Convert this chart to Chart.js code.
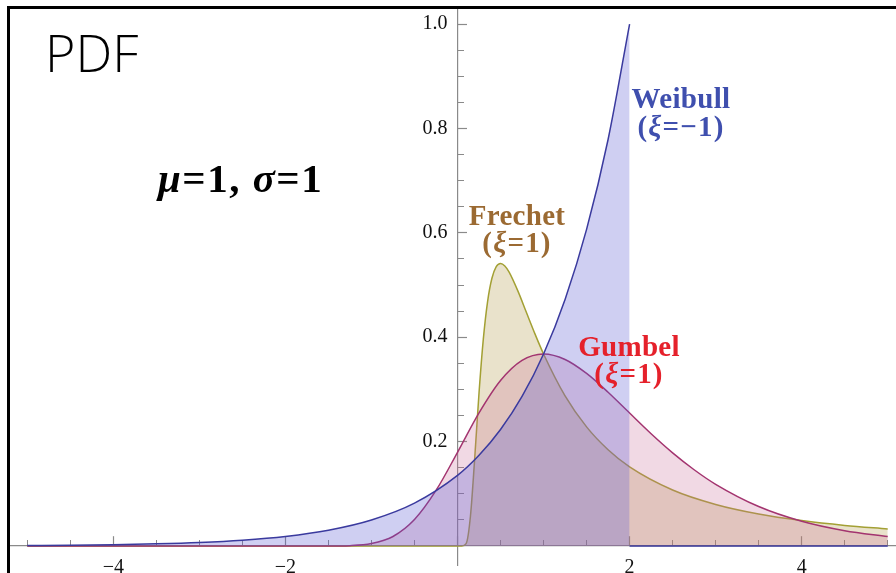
<!DOCTYPE html>
<html>
<head>
<meta charset="utf-8">
<script src="https://cdn.jsdelivr.net/npm/chart.js@4.4.1/dist/chart.umd.min.js"></script>
<style>
  html, body { margin: 0; padding: 0; background: #fff; }
  #wrap { position: relative; width: 896px; height: 573px; overflow: hidden; }
  #frame { position: absolute; left: 7px; top: 6px; right: -5px; bottom: -5px;
           border-left: 3px solid #000; border-top: 3px solid #000; pointer-events: none; }
</style>
</head>
<body>
<div id="wrap">
  <canvas id="pdfChart" width="896" height="573"></canvas>
  <div id="frame"></div>
</div>
<script>
// GEV densities, mu=1, sigma=1
const xWeibull = [-5, -4.5, -4, -3.5, -3, -2.5, -2, -1.5, -1, -0.5, 0, 0.25, 0.5, 0.75, 1, 1.25, 1.5, 1.75, 2];
const yWeibull = [0.0009, 0.0015, 0.0025, 0.0041, 0.0067, 0.0111, 0.0183, 0.0302, 0.0498, 0.0821, 0.1353, 0.1738, 0.2231, 0.2865, 0.3679, 0.4724, 0.6065, 0.7788, 1.0];
// zero beyond the upper end point
const xWeibullTail = [2, 5];
const yWeibullTail = [0, 0];

const xGumbel = [-5, -1.5, -1.25, -1, -0.75, -0.5, -0.25, 0, 0.25, 0.5, 0.75, 1, 1.25, 1.5, 1.75, 2, 2.25, 2.5, 2.75, 3, 3.5, 4, 4.5, 5];
const yGumbel = [0, 0.0001, 0.0007, 0.0046, 0.0182, 0.0507, 0.1064, 0.1794, 0.2549, 0.3170, 0.3556, 0.3679, 0.3574, 0.3307, 0.2946, 0.2547, 0.2151, 0.1785, 0.1461, 0.1182, 0.0756, 0.0474, 0.0293, 0.0180];

const xFrechet = [-5, 0, 0.05, 0.1, 0.15, 0.2, 0.25, 0.3, 0.35, 0.4, 0.45, 0.5, 0.55, 0.6, 0.7, 0.8, 0.9, 1, 1.25, 1.5, 1.75, 2, 2.5, 3, 3.5, 4, 4.5, 5];
const yFrechet = [0, 0, 0.0000, 0.0045, 0.0566, 0.1684, 0.2930, 0.3963, 0.4688, 0.5130, 0.5353, 0.5413, 0.5366, 0.5247, 0.4892, 0.4477, 0.4064, 0.3679, 0.2876, 0.2282, 0.1844, 0.1516, 0.1073, 0.0796, 0.0613, 0.0487, 0.0395, 0.0327];

const xMajorStep = 2, xMinorStep = 0.5;
const yMajorStep = 0.2, yMinorStep = 0.05;

const pts = (xs, ys) => xs.map((x, i) => ({ x: x, y: ys[i] }));

const axisGrey = '#8a8a8a';
const serif = '"Liberation Serif", "Times New Roman", serif';
const X_MIN = -5.224, X_MAX = 5.096, Y_MIN = -0.0364, Y_MAX = 1.0307;

// labels drawn on the canvas
const textLabels = {
  id: 'textLabels',
  afterDatasetsDraw(chart) {
    const c = chart.ctx;
    c.save();
    c.textBaseline = 'alphabetic';
    c.textAlign = 'left';

    c.fillStyle = '#000';
    c.font = '300 52px "Open Sans"';
    c.fillText('PDF', 45, 72);

    // draw runs of text, mixing italic greek letters and upright bold
    function runs(parts, size, color, x, y, centered, spacing) {
      c.letterSpacing = (spacing || 0) + 'px';
      let total = 0;
      parts.forEach(p => {
        c.font = (p[1] ? 'italic ' : '') + 'bold ' + size + 'px ' + serif;
        total += c.measureText(p[0]).width;
      });
      let cx = centered ? x - total / 2 : x;
      c.fillStyle = color;
      parts.forEach(p => {
        c.font = (p[1] ? 'italic ' : '') + 'bold ' + size + 'px ' + serif;
        c.fillText(p[0], cx, y);
        cx += c.measureText(p[0]).width;
      });
      c.letterSpacing = '0px';
    }

    runs([['μ', true], ['=1, ', false], ['σ', true], ['=1', false]], 41, '#000', 158, 192, false, 1.5);

    const blue = '#3f4fae', brown = '#9b6a32', red = '#e5212b';
    runs([['Weibull', false]], 29, blue, 681, 108, true, 0.3);
    runs([['(', false], ['ξ', true], ['=−1)', false]], 29, blue, 681, 136, true, 1.2);
    runs([['Frechet', false]], 29, brown, 517, 225, true, 0.3);
    runs([['(', false], ['ξ', true], ['=1)', false]], 29, brown, 517, 252, true, 1.2);
    runs([['Gumbel', false]], 29, red, 629, 356, true, 0.3);
    runs([['(', false], ['ξ', true], ['=1)', false]], 29, red, 629, 383, true, 1.2);
    c.restore();
  }
};

// positioned axes should not take room from the plot area
const noSpaceX = s => { s.height = 0; s.paddingLeft = 0; s.paddingRight = 0; s.paddingTop = 0; s.paddingBottom = 0; };
const noSpaceY = s => { s.width = 0; s.paddingTop = 0; s.paddingBottom = 0; s.paddingLeft = 0; s.paddingRight = 0; };

new Chart(document.getElementById('pdfChart').getContext('2d'), {
  type: 'line',
  data: {
    datasets: [
      {
        label: 'Weibull',
        data: pts(xWeibull, yWeibull),
        borderColor: '#3a3a9e',
        backgroundColor: 'rgba(90,90,210,0.29)',
        borderWidth: 1.5,
        fill: 'origin',
        cubicInterpolationMode: 'monotone'
      },
      {
        label: 'Weibull tail',
        data: pts(xWeibullTail, yWeibullTail),
        borderColor: '#3a3a9e',
        borderWidth: 1.5,
        fill: false,
        tension: 0
      },
      {
        label: 'Gumbel',
        data: pts(xGumbel, yGumbel),
        borderColor: '#a3346f',
        backgroundColor: 'rgba(200,110,150,0.26)',
        borderWidth: 1.5,
        fill: 'origin',
        cubicInterpolationMode: 'monotone'
      },
      {
        label: 'Frechet',
        data: pts(xFrechet, yFrechet),
        borderColor: '#a3a034',
        backgroundColor: 'rgba(175,150,70,0.28)',
        borderWidth: 1.5,
        fill: 'origin',
        cubicInterpolationMode: 'monotone'
      }
    ]
  },
  options: {
    responsive: false,
    animation: false,
    layout: { padding: { left: 8, top: 8, right: 0, bottom: 8 } },
    elements: { point: { radius: 0 } },
    plugins: { legend: { display: false }, tooltip: { enabled: false } },
    scales: {
      x: {
        type: 'linear', position: { y: 0 }, min: X_MIN, max: X_MAX,
        afterFit: noSpaceX,
        border: { color: axisGrey, width: 1.2 },
        grid: { drawOnChartArea: false, tickLength: -10, tickColor: axisGrey, tickWidth: 1.2 },
        ticks: {
          stepSize: xMajorStep, includeBounds: false, padding: 20, maxRotation: 0,
          color: '#111', font: { family: serif, size: 20 },
          callback: v => Math.abs(v) < 1e-6 ? '' : (v < 0 ? '\u2212' + Math.abs(v) : String(v))
        }
      },
      x2: {
        type: 'linear', axis: 'x', position: { y: 0 }, min: X_MIN, max: X_MAX,
        afterFit: noSpaceX,
        border: { display: false },
        grid: { drawOnChartArea: false, tickLength: -6, tickColor: axisGrey, tickWidth: 1 },
        ticks: { stepSize: xMinorStep, includeBounds: false, display: false }
      },
      y: {
        type: 'linear', position: { x: 0 }, min: Y_MIN, max: Y_MAX,
        afterFit: noSpaceY,
        border: { color: axisGrey, width: 1.2 },
        grid: { drawOnChartArea: false, tickLength: -10, tickWidth: 1.2,
                tickColor: ctx => (ctx.tick && ctx.tick.value < 0.01) ? 'rgba(0,0,0,0)' : axisGrey },
        ticks: {
          stepSize: yMajorStep, includeBounds: false,
          color: '#111', font: { family: serif, size: 20 },
          callback: v => v < 0.01 ? '' : v.toFixed(1) + '  '
        }
      },
      y2: {
        type: 'linear', axis: 'y', position: { x: 0 }, min: Y_MIN, max: Y_MAX,
        afterFit: noSpaceY,
        border: { display: false },
        grid: { drawOnChartArea: false, tickLength: -6, tickWidth: 1,
                tickColor: ctx => (ctx.tick && ctx.tick.value < 0.01) ? 'rgba(0,0,0,0)' : axisGrey },
        ticks: { stepSize: yMinorStep, includeBounds: false, display: false }
      }
    }
  },
  plugins: [textLabels]
});
</script>
</body>
</html>
